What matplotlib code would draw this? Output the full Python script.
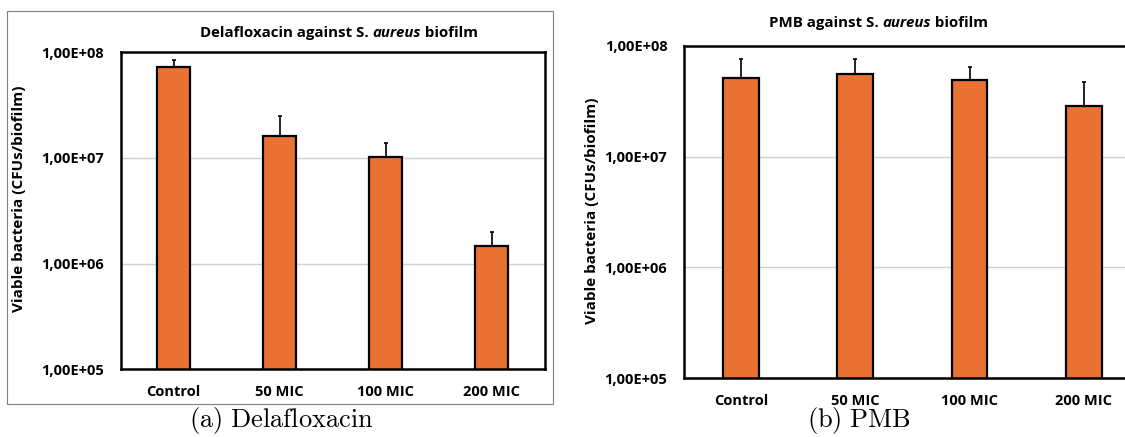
import numpy as np
import matplotlib.pyplot as plt
from matplotlib.patches import Rectangle

plt.rcParams['font.family'] = ['Open Sans', 'DejaVu Sans']
plt.rcParams['font.weight'] = 'bold'

categories = ["Control", "50 MIC", "100 MIC", "200 MIC"]
dela_mean = [7.2e7, 1.6e7, 1.02e7, 1.48e6]
dela_err = [1.3e7, 9.0e6, 3.6e6, 5.2e5]
pmb_mean = [5.1e7, 5.56e7, 4.9e7, 2.85e7]
pmb_err = [2.5e7, 1.95e7, 1.53e7, 1.83e7]
yticks = [1e5, 1e6, 1e7, 1e8]
ytick_labels = ["1,00E+05", "1,00E+06", "1,00E+07", "1,00E+08"]

W, H = 1125, 437
BAR = "#E97132"
FS = 10.5
fig = plt.figure(figsize=(W / 100, H / 100), dpi=100)


def px(x0, y0, x1, y1):
    # pixel box (top-left origin) -> figure fraction rect
    return [x0 / W, 1 - y1 / H, (x1 - x0) / W, (y1 - y0) / H]


def panel(rect, means, errs):
    ax = fig.add_axes(rect)
    x = np.arange(len(categories))
    ax.bar(x, means, width=0.315, color=BAR, edgecolor="black", linewidth=1.6,
           zorder=3)
    ax.errorbar(x, means, yerr=[np.zeros(len(errs)), errs], fmt="none",
                ecolor="black", elinewidth=1.2, capsize=1.6, capthick=1.2,
                zorder=2)
    ax.set_yscale("log")
    ax.set_ylim(1e5, 1e8)
    ax.set_xlim(-0.5, len(categories) - 0.5)
    ax.set_yticks(yticks)
    ax.set_yticklabels(ytick_labels, fontsize=FS, fontweight="bold")
    ax.yaxis.set_minor_locator(plt.NullLocator())
    ax.set_xticks(x)
    ax.set_xticklabels(categories, fontsize=FS, fontweight="bold")
    ax.tick_params(length=0, axis="y", pad=12)
    ax.tick_params(length=0, axis="x", pad=11)
    ax.grid(axis="y", color="#d0d0d0", lw=1.0, zorder=0)
    for s in ax.spines.values():
        s.set_linewidth(1.8)
        s.set_zorder(4)
    ax.set_axisbelow(True)
    return ax


ax1 = panel(px(120.7, 52.3, 544.7, 369.3), dela_mean, dela_err)
ax2 = panel(px(684, 45.7, 1140.8, 378.3), pmb_mean, pmb_err)

fig.text(19 / W, 1 - 199 / H, "Viable bacteria (CFUs/biofilm)", rotation=90,
         ha="center", va="center", fontsize=FS + 0.5, fontweight="bold")
fig.text(592 / W, 1 - 211 / H, "Viable bacteria (CFUs/biofilm)", rotation=90,
         ha="center", va="center", fontsize=FS + 0.5, fontweight="bold")


def title(x, y, head):
    t1 = fig.text(x / W, 1 - y / H, head + " S. ", fontsize=FS + 0.3,
                  fontweight="bold", va="baseline", ha="left")
    t2 = fig.text(0, 0, "aureus", fontsize=FS + 0.3, fontweight="bold",
                  style="italic", va="bottom", ha="left")
    t3 = fig.text(0, 0, " biofilm", fontsize=FS + 0.3, fontweight="bold",
                  va="bottom", ha="left")
    fig.canvas.draw()
    r = fig.canvas.get_renderer()
    b1 = t1.get_window_extent(r)
    t2.set_position(fig.transFigure.inverted().transform((b1.x1, b1.y0)))
    b2 = t2.get_window_extent(r)
    t3.set_position(fig.transFigure.inverted().transform((b2.x1, b1.y0)))


title(200, 37, "Delafloxacin against")
title(769, 27, "PMB against")

# outer chart frame on the left panel
fig.add_artist(Rectangle((7 / W, 1 - 404 / H), 546 / W, 393 / H,
                         transform=fig.transFigure, fill=False,
                         ec="#7f7f7f", lw=0.8))

fig.text(281 / W, 1 - 421 / H, r"$\mathrm{(a)\ Delafloxacin}$", ha="center",
         va="center", fontsize=19, math_fontfamily="cm")
fig.text(859 / W, 1 - 421 / H, r"$\mathrm{(b)\ PMB}$", ha="center",
         va="center", fontsize=19, math_fontfamily="cm")

fig.savefig("out.png", dpi=100)
